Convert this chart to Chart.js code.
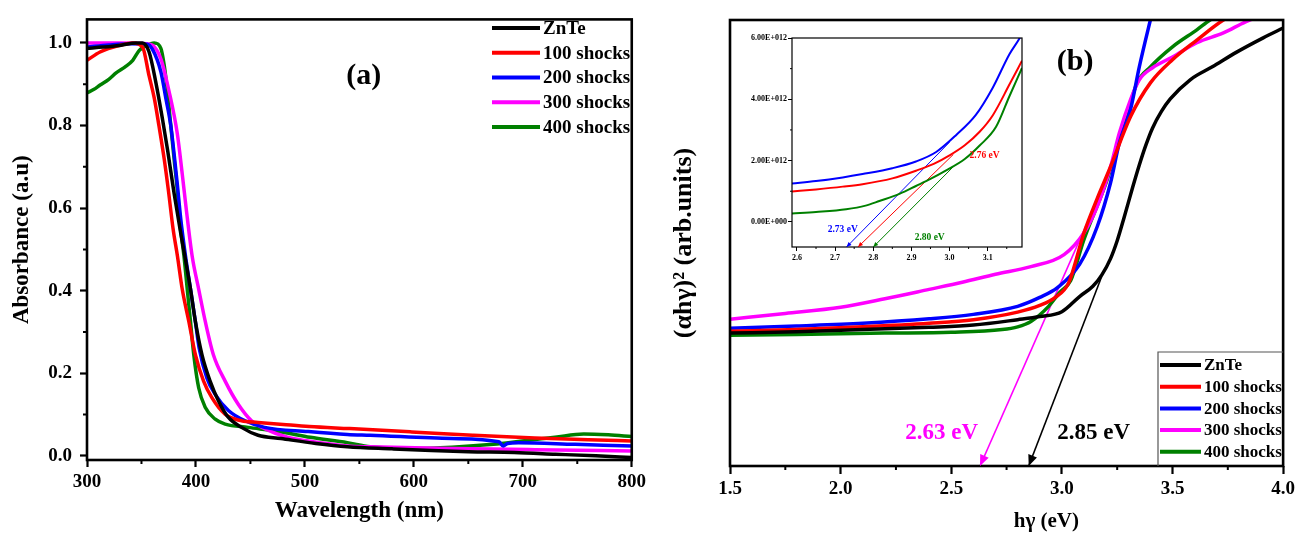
<!DOCTYPE html>
<html>
<head>
<meta charset="utf-8">
<title>ZnTe absorbance and Tauc plots</title>
<script src="https://cdn.jsdelivr.net/npm/chart.js@4.4.1/dist/chart.umd.min.js"></script>
<style>
  html, body { margin: 0; padding: 0; background: #fff; width: 1299px; height: 533px; overflow: hidden; }
  .panel { position: absolute; }
</style>
</head>
<body>
<div class="panel" style="left:0;top:0;"><canvas id="absChart" width="650" height="533"></canvas></div>
<div class="panel" style="left:650px;top:0;"><canvas id="taucChart" width="649" height="533"></canvas></div>
<div class="panel" style="left:740px;top:28px;"><canvas id="insetChart" width="290" height="240"></canvas></div>
<script>
// ---------- series names and colours ----------
const SERIES = ['ZnTe', '100 shocks', '200 shocks', '300 shocks', '400 shocks'];
const COLORS = ['#000000', '#ff0000', '#0000ff', '#ff00ff', '#008000'];

// ---------- (a) absorbance vs wavelength (nm) ----------
const wlZnTe  = [300,315,330,345,351,357,363,369,374,380,386,390.4,395,399.5,405.5,413,420.7,429.8,441.8,457,478,510,539,580,616,650,692,730,767,800];
const absZnTe = [0.987,0.99,0.994,1.0,1.0,0.978,0.907,0.82,0.74,0.635,0.54,0.475,0.404,0.325,0.245,0.181,0.133,0.093,0.069,0.05,0.042,0.03,0.022,0.017,0.013,0.01,0.008,0.004,0.0,-0.004];

const wl100  = [300,312,330,342,351,357,361.7,366,370.8,374.7,379,383,387.4,393.5,399.5,407,414.6,426.7,441.8,457,480,504,541,598,654,711,760,800];
const abs100 = [0.958,0.978,0.994,1.0,0.99,0.92,0.867,0.80,0.72,0.643,0.55,0.484,0.404,0.325,0.245,0.181,0.141,0.101,0.085,0.081,0.076,0.071,0.066,0.058,0.05,0.043,0.039,0.036];

const wl200  = [300,320,340,355,360,367.8,372.3,376.9,380,383,386,390.4,395,399.5,403,410,417.6,429.8,445,463,503,539,560,635,678,682,686,696,748,800];
const abs200 = [0.99,0.995,0.998,0.997,0.985,0.93,0.867,0.80,0.73,0.655,0.575,0.484,0.404,0.325,0.26,0.189,0.149,0.11,0.085,0.069,0.059,0.052,0.05,0.042,0.034,0.024,0.03,0.032,0.028,0.024];

const wl300  = [300,330,355,362,368,375.3,382.9,387.4,391,396.5,402.5,408.6,416,426.8,438.8,451,463,484,503,539,560,635,711,800];
const abs300 = [1.0,1.0,0.998,0.99,0.96,0.883,0.78,0.683,0.60,0.484,0.404,0.325,0.245,0.181,0.125,0.085,0.066,0.045,0.036,0.024,0.022,0.018,0.015,0.012];

const wl400  = [300,306,312,320,327,335,342,348,354,361.7,367.8,370.8,373.8,376.9,379.9,382.9,385,389,392,395,398,402.5,408.6,417.7,426.8,448,478,505,539,560,597.6,635,673,699.4,729.5,756,778.5,800];
const abs400 = [0.879,0.887,0.898,0.912,0.928,0.942,0.958,0.982,0.993,1.0,0.987,0.947,0.883,0.80,0.72,0.643,0.57,0.484,0.404,0.325,0.245,0.165,0.117,0.089,0.077,0.069,0.058,0.045,0.032,0.022,0.018,0.021,0.028,0.036,0.045,0.053,0.051,0.047];

const WL_TICKS  = [300, 400, 500, 600, 700, 800];
const WL_MINOR  = [350, 450, 550, 650, 750];
const ABS_TICKS = [0.0, 0.2, 0.4, 0.6, 0.8, 1.0];
const ABS_MINOR = [0.1, 0.3, 0.5, 0.7, 0.9];

// ---------- (b) (alpha h gamma)^2 vs photon energy (eV), arbitrary units ----------
const evZnTe  = [1.5,1.8,2.1,2.4,2.6,2.8,2.9,3.0,3.08,3.14,3.18,3.22,3.25,3.28,3.32,3.35,3.38,3.41,3.45,3.49,3.58,3.68,3.79,3.91,4.0];
const tauZnTe = [29.8,30.1,30.6,31.1,31.6,32.8,33.5,34.6,38.0,40.3,42.8,46.5,50.5,55.5,62.5,67.5,72.0,75.8,79.5,82.3,86.6,89.5,92.8,96.0,98.2];

const ev100  = [1.5,1.8,2.1,2.4,2.6,2.8,2.9,2.97,3.03,3.10,3.16,3.22,3.31,3.40,3.50,3.61,3.73,3.85];
const tau100 = [30.2,30.6,31.2,32.0,32.8,34.5,36.0,37.8,41.0,52.3,60.0,67.1,78.3,85.9,91.1,95.5,100,103];

const ev200  = [1.5,1.8,2.1,2.4,2.6,2.8,2.9,2.98,3.08,3.16,3.22,3.26,3.31,3.35,3.40,3.45];
const tau200 = [30.9,31.4,32.0,33.0,34.0,35.8,37.8,40.0,45.2,53.7,63.5,72.5,79.9,89.5,100,110];

const ev300  = [1.5,1.75,2.0,2.2,2.4,2.55,2.7,2.86,3.01,3.10,3.16,3.22,3.26,3.31,3.35,3.41,3.50,3.61,3.73,3.83,3.9];
const tau300 = [32.9,34.2,35.6,37.5,39.6,41.2,43.0,44.7,47.4,52.3,58.2,67.1,74.7,82.1,86.6,89.3,91.7,94.9,97.1,99.6,101];

const ev400  = [1.5,1.8,2.2,2.5,2.73,2.80,2.86,2.94,2.99,3.04,3.10,3.20,3.28,3.34,3.40,3.50,3.61,3.67,3.75];
const tau400 = [29.3,29.5,29.8,30.0,30.6,31.2,32.4,35.8,38.9,41.6,50.8,63.5,76.1,85.9,89.5,94.0,97.8,100,102];

const EV_TICKS = [1.5, 2.0, 2.5, 3.0, 3.5, 4.0];
const EV_MINOR = [1.75, 2.25, 2.75, 3.25, 3.75];

// extrapolated band-gap lines (start on the curve, end on the energy axis)
const gap300 = { from: [3.11, 54], to: [2.63, 0], label: '2.63 eV' };
const gapZnTe = { from: [3.18, 42.5], to: [2.85, 0], label: '2.85 eV' };

// ---------- inset: zoom of the absorption edge (values in 1E+12) ----------
const inEv200  = [2.587,2.65,2.72,2.772,2.85,2.912,2.965,3.017,3.069,3.113,3.157,3.184,3.2];
const inTau200 = [1.25,1.33,1.45,1.56,1.75,1.97,2.28,2.83,3.49,4.37,5.47,6.0,6.4];
const inEv100  = [2.587,2.65,2.72,2.772,2.85,2.912,2.96,3.0,3.04,3.079,3.114,3.157,3.19];
const inTau100 = [0.99,1.06,1.15,1.23,1.42,1.67,1.9,2.17,2.5,2.94,3.49,4.48,5.26];
const inEv400  = [2.587,2.65,2.729,2.78,2.816,2.87,2.912,2.95,2.99,3.04,3.079,3.122,3.157,3.19];
const inTau400 = [0.27,0.32,0.41,0.53,0.68,0.92,1.17,1.4,1.67,2.05,2.49,3.1,4.1,5.02];

const gapIn200 = { from: [3.0, 2.6],  to: [2.73, -0.82], label: '2.73 eV' };
const gapIn100 = { from: [3.01, 2.2], to: [2.76, -0.82], label: '2.76 eV' };
const gapIn400 = { from: [3.01, 1.8], to: [2.80, -0.82], label: '2.80 eV' };

const IN_X_TICKS = [2.6, 2.7, 2.8, 2.9, 3.0, 3.1];
const IN_X_MINOR = [2.65, 2.75, 2.85, 2.95, 3.05, 3.15];
const IN_Y_TICKS = [0, 2, 4, 6];
const IN_Y_MINOR = [1, 3, 5];

// ---------- shared helpers ----------
const SERIF = "'Liberation Serif', 'Times New Roman', serif";
const toXY = (xs, ys) => xs.map((x, i) => ({ x, y: ys[i] }));
const bold = (size) => ({ family: SERIF, size, weight: 'bold' });

function curve(label, color, xs, ys, width) {
  return { label, data: toXY(xs, ys), borderColor: color, backgroundColor: color,
           borderWidth: width, pointRadius: 0, fill: false, cubicInterpolationMode: 'monotone' };
}
function gapLine(g, color, width, head) {
  return { label: g.label, data: [ { x: g.from[0], y: g.from[1] }, { x: g.to[0], y: g.to[1] } ],
           borderColor: color, borderWidth: width, pointRadius: 0, fill: false, arrowHead: head, noLegend: true };
}

// frame around the plot area plus minor tick marks
function framePlugin(cfg) {
  return {
    id: 'frame_' + cfg.name,
    afterDatasetsDraw(chart) {
      const { ctx, chartArea: a, scales } = chart;
      ctx.save();
      ctx.strokeStyle = '#000';
      ctx.lineWidth = cfg.lineWidth;
      ctx.strokeRect(a.left, a.top, a.right - a.left, a.bottom - a.top);
      ctx.lineWidth = cfg.minorWidth;
      ctx.beginPath();
      (cfg.minorX || []).forEach(v => {
        const px = scales.x.getPixelForValue(v);
        ctx.moveTo(px, a.bottom); ctx.lineTo(px, a.bottom + cfg.minorLen);
      });
      (cfg.minorY || []).forEach(v => {
        const py = scales.y.getPixelForValue(v);
        ctx.moveTo(a.left, py); ctx.lineTo(a.left - cfg.minorLen, py);
      });
      ctx.stroke();
      ctx.restore();
    }
  };
}

// arrow heads at the end of the extrapolation lines
const arrowPlugin = {
  id: 'arrowHeads',
  afterDatasetsDraw(chart) {
    const ctx = chart.ctx;
    chart.data.datasets.forEach((ds, i) => {
      if (!ds.arrowHead) return;
      const pts = chart.getDatasetMeta(i).data;
      const p = pts[pts.length - 2], q = pts[pts.length - 1];
      const ang = Math.atan2(q.y - p.y, q.x - p.x);
      const L = ds.arrowHead, W = L * 0.42;
      const bx = q.x - L * Math.cos(ang), by = q.y - L * Math.sin(ang);
      ctx.save();
      ctx.fillStyle = ds.borderColor;
      ctx.beginPath();
      ctx.moveTo(q.x, q.y);
      ctx.lineTo(bx + W * Math.sin(ang), by - W * Math.cos(ang));
      ctx.lineTo(bx - W * Math.sin(ang), by + W * Math.cos(ang));
      ctx.closePath();
      ctx.fill();
      ctx.restore();
    });
  }
};

// free text placed in data coordinates
function textPlugin(name, items) {
  return {
    id: 'text_' + name,
    afterDraw(chart) {
      const { ctx, scales } = chart;
      ctx.save();
      items.forEach(t => {
        ctx.font = t.font;
        ctx.fillStyle = t.color;
        ctx.textAlign = 'center';
        ctx.textBaseline = 'middle';
        ctx.fillText(t.text, scales.x.getPixelForValue(t.at[0]), scales.y.getPixelForValue(t.at[1]));
      });
      ctx.restore();
    }
  };
}

// legend built from the curve datasets
function legendPlugin(cfg) {
  return {
    id: 'legend_' + cfg.name,
    afterDraw(chart) {
      const ctx = chart.ctx, a = chart.chartArea;
      ctx.save();
      if (cfg.box) {
        ctx.strokeStyle = '#555';
        ctx.lineWidth = 1.2;
        ctx.beginPath();
        ctx.moveTo(cfg.box.left, a.bottom);
        ctx.lineTo(cfg.box.left, cfg.box.top);
        ctx.lineTo(a.right, cfg.box.top);
        ctx.stroke();
      }
      chart.data.datasets.filter(ds => !ds.noLegend).forEach((ds, i) => {
        const y = cfg.top + i * cfg.step;
        ctx.strokeStyle = ds.borderColor;
        ctx.lineWidth = cfg.lineWidth;
        ctx.beginPath();
        ctx.moveTo(cfg.x0, y); ctx.lineTo(cfg.x1, y);
        ctx.stroke();
        ctx.fillStyle = '#000';
        ctx.font = cfg.font;
        ctx.textAlign = 'left';
        ctx.textBaseline = 'middle';
        ctx.fillText(ds.label, cfg.textX, y + 1);
      });
      ctx.restore();
    }
  };
}

// axis title drawn at a chosen energy along the bottom axis
function bottomTitlePlugin(name, text, atValue, y, font) {
  return {
    id: 'btitle_' + name,
    afterDraw(chart) {
      const ctx = chart.ctx;
      ctx.save();
      ctx.font = font;
      ctx.fillStyle = '#000';
      ctx.textAlign = 'center';
      ctx.textBaseline = 'middle';
      ctx.fillText(text, chart.scales.x.getPixelForValue(atValue), y);
      ctx.restore();
    }
  };
}

function sciLabel(v) {
  if (Math.abs(v) < 1e-9) return '0.00E+000';
  const full = v * 1e12;
  const exp = Math.floor(Math.log10(Math.abs(full)) + 1e-9);
  const mant = full / Math.pow(10, exp);
  return mant.toFixed(2) + 'E+' + String(exp).padStart(3, '0');
}

const baseOptions = {
  responsive: false,
  animation: false,
  events: [],
  plugins: { legend: { display: false }, tooltip: { enabled: false } },
};

// ---------- (a) ----------
new Chart(document.getElementById('absChart'), {
  type: 'line',
  data: {
    datasets: [
      curve(SERIES[0], COLORS[0], wlZnTe, absZnTe, 3.5),
      curve(SERIES[1], COLORS[1], wl100, abs100, 3.5),
      curve(SERIES[2], COLORS[2], wl200, abs200, 3.5),
      curve(SERIES[3], COLORS[3], wl300, abs300, 3.5),
      curve(SERIES[4], COLORS[4], wl400, abs400, 3.5),
    ]
  },
  options: {
    ...baseOptions,
    layout: { padding: { left: 8, right: 12, top: 14, bottom: 8 } },
    scales: {
      x: {
        type: 'linear', min: 300, max: 800,
        afterBuildTicks: s => { s.ticks = WL_TICKS.map(v => ({ value: v })); },
        afterFit: s => { s.height = 65; },
        ticks: { font: bold(19), color: '#000', padding: 4, maxRotation: 0, autoSkip: false, callback: v => String(v) },
        grid: { drawOnChartArea: false, tickLength: 7, tickWidth: 2.2, tickColor: '#000' },
        border: { display: false },
        title: { display: true, text: 'Wavelength (nm)', font: bold(23), color: '#000', padding: 0 }
      },
      y: {
        type: 'linear', min: -0.01, max: 1.057,
        afterBuildTicks: s => { s.ticks = ABS_TICKS.map(v => ({ value: v })); },
        afterFit: s => { s.width = 79; },
        ticks: { font: bold(19), color: '#000', padding: 8, autoSkip: false, callback: v => v.toFixed(1) },
        grid: { drawOnChartArea: false, tickLength: 7, tickWidth: 2.2, tickColor: '#000' },
        border: { display: false },
        title: { display: true, text: 'Absorbance (a.u)', font: bold(23), color: '#000', padding: 0 }
      }
    }
  },
  plugins: [
    framePlugin({ name: 'a', lineWidth: 2.6, minorWidth: 2, minorLen: 4, minorX: WL_MINOR, minorY: ABS_MINOR }),
    textPlugin('a', [ { text: '(a)', at: [554, 0.92], font: 'bold 30px ' + SERIF, color: '#000' } ]),
    legendPlugin({ name: 'a', top: 28, step: 24.75, x0: 492, x1: 540, textX: 543, lineWidth: 4, font: 'bold 19px ' + SERIF })
  ]
});

// ---------- (b) ----------
new Chart(document.getElementById('taucChart'), {
  type: 'line',
  data: {
    datasets: [
      curve(SERIES[0], COLORS[0], evZnTe, tauZnTe, 3.5),
      curve(SERIES[1], COLORS[1], ev100, tau100, 3.5),
      curve(SERIES[2], COLORS[2], ev200, tau200, 3.5),
      curve(SERIES[3], COLORS[3], ev300, tau300, 3.5),
      curve(SERIES[4], COLORS[4], ev400, tau400, 3.5),
      gapLine(gap300, COLORS[3], 1.6, 11),
      gapLine(gapZnTe, COLORS[0], 1.6, 11),
    ]
  },
  options: {
    ...baseOptions,
    layout: { padding: { left: 19, right: 12, top: 20, bottom: 0 } },
    scales: {
      x: {
        type: 'linear', min: 1.5, max: 4.0,
        afterBuildTicks: s => { s.ticks = EV_TICKS.map(v => ({ value: v })); },
        afterFit: s => { s.height = 67; },
        ticks: { font: bold(19), color: '#000', padding: 4, maxRotation: 0, autoSkip: false, callback: v => v.toFixed(1) },
        grid: { drawOnChartArea: false, tickLength: 8, tickWidth: 2.2, tickColor: '#000' },
        border: { display: false }
      },
      y: {
        type: 'linear', min: 0, max: 100,
        afterFit: s => { s.width = 61; },
        ticks: { display: false },
        grid: { display: false },
        border: { display: false },
        title: { display: true, text: '(αhγ)² (arb.units)', font: bold(26), color: '#000', padding: 0 }
      }
    }
  },
  plugins: [
    framePlugin({ name: 'b', lineWidth: 2.6, minorWidth: 2, minorLen: 4, minorX: EV_MINOR, minorY: [] }),
    arrowPlugin,
    textPlugin('b', [
      { text: '(b)', at: [3.06, 90.6], font: 'bold 30px ' + SERIF, color: '#000' },
      { text: gap300.label, at: [2.457, 7.4], font: 'bold 23px ' + SERIF, color: COLORS[3] },
      { text: gapZnTe.label, at: [3.144, 7.4], font: 'bold 23px ' + SERIF, color: COLORS[0] },
    ]),
    legendPlugin({ name: 'b', box: { left: 508, top: 352 }, top: 365, step: 21.7, x0: 510, x1: 551, textX: 554, lineWidth: 4, font: 'bold 17px ' + SERIF }),
    bottomTitlePlugin('b', 'hγ (eV)', 2.93, 522, 'bold 21px ' + SERIF)
  ]
});

// ---------- inset ----------
new Chart(document.getElementById('insetChart'), {
  type: 'line',
  data: {
    datasets: [
      curve(SERIES[2], COLORS[2], inEv200, inTau200, 2),
      curve(SERIES[1], COLORS[1], inEv100, inTau100, 2),
      curve(SERIES[4], COLORS[4], inEv400, inTau400, 2),
      gapLine(gapIn200, COLORS[2], 1, 5),
      gapLine(gapIn100, COLORS[1], 1, 5),
      gapLine(gapIn400, COLORS[4], 1, 5),
    ]
  },
  options: {
    ...baseOptions,
    layout: { padding: { left: 0, right: 8, top: 10, bottom: 0 } },
    scales: {
      x: {
        type: 'linear', min: 2.587, max: 3.19,
        afterBuildTicks: s => { s.ticks = IN_X_TICKS.map(v => ({ value: v })); },
        afterFit: s => { s.height = 21; },
        ticks: { font: bold(8), color: '#000', padding: 2, maxRotation: 0, autoSkip: false, callback: v => v.toFixed(1) },
        grid: { drawOnChartArea: false, tickLength: 4, tickWidth: 1, tickColor: '#000' },
        border: { display: false }
      },
      y: {
        type: 'linear', min: -0.82, max: 6.0,
        afterBuildTicks: s => { s.ticks = IN_Y_TICKS.map(v => ({ value: v })); },
        afterFit: s => { s.width = 52; },
        ticks: { font: bold(8), color: '#000', padding: 1, autoSkip: false, callback: v => sciLabel(v) },
        grid: { drawOnChartArea: false, tickLength: 4, tickWidth: 1, tickColor: '#000' },
        border: { display: false }
      }
    }
  },
  plugins: [
    framePlugin({ name: 'inset', lineWidth: 1.2, minorWidth: 1, minorLen: 2, minorX: IN_X_MINOR, minorY: IN_Y_MINOR }),
    arrowPlugin,
    textPlugin('inset', [
      { text: gapIn200.label, at: [2.72, -0.25], font: 'bold 9.5px ' + SERIF, color: COLORS[2] },
      { text: gapIn100.label, at: [3.092, 2.16], font: 'bold 9.5px ' + SERIF, color: COLORS[1] },
      { text: gapIn400.label, at: [2.948, -0.52], font: 'bold 9.5px ' + SERIF, color: COLORS[4] },
    ])
  ]
});
</script>
</body>
</html>
